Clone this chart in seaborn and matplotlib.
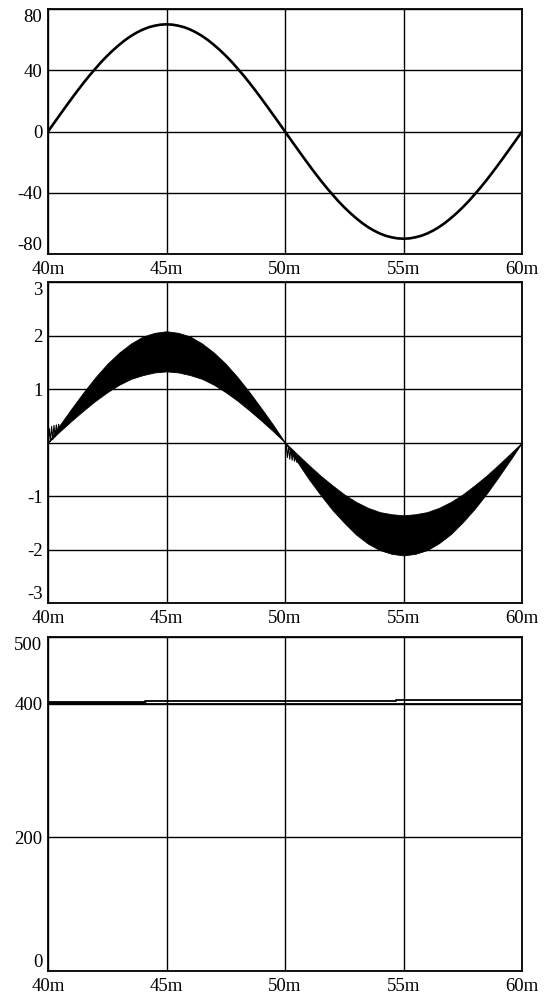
import numpy as np
import pandas as pd
import matplotlib
matplotlib.use('Agg')
import matplotlib.pyplot as plt
import seaborn as sns

# time axis in ms (labels get an 'm' suffix), 0.25 ms steps
t_fine = [40.0, 40.25, 40.5, 40.75, 41.0, 41.25, 41.5, 41.75, 42.0, 42.25,
          42.5, 42.75, 43.0, 43.25, 43.5, 43.75, 44.0, 44.25, 44.5, 44.75,
          45.0, 45.25, 45.5, 45.75, 46.0, 46.25, 46.5, 46.75, 47.0, 47.25,
          47.5, 47.75, 48.0, 48.25, 48.5, 48.75, 49.0, 49.25, 49.5, 49.75,
          50.0, 50.25, 50.5, 50.75, 51.0, 51.25, 51.5, 51.75, 52.0, 52.25,
          52.5, 52.75, 53.0, 53.25, 53.5, 53.75, 54.0, 54.25, 54.5, 54.75,
          55.0, 55.25, 55.5, 55.75, 56.0, 56.25, 56.5, 56.75, 57.0, 57.25,
          57.5, 57.75, 58.0, 58.25, 58.5, 58.75, 59.0, 59.25, 59.5, 59.75,
          60.0]

# top panel - sine
v_top = [0, 5.5, 10.9, 16.3, 21.6, 26.8, 31.8, 36.6, 41.1, 45.5,
         49.5, 53.2, 56.6, 59.7, 62.4, 64.7, 66.6, 68.1, 69.1, 69.8,
         70.0, 69.8, 69.1, 68.1, 66.6, 64.7, 62.4, 59.7, 56.6, 53.2,
         49.5, 45.5, 41.1, 36.6, 31.8, 26.8, 21.6, 16.3, 10.9, 5.5,
         0, -5.5, -10.9, -16.3, -21.6, -26.8, -31.8, -36.6, -41.1, -45.5,
         -49.5, -53.2, -56.6, -59.7, -62.4, -64.7, -66.6, -68.1, -69.1, -69.8,
         -70.0, -69.8, -69.1, -68.1, -66.6, -64.7, -62.4, -59.7, -56.6, -53.2,
         -49.5, -45.5, -41.1, -36.6, -31.8, -26.8, -21.6, -16.3, -10.9, -5.5,
         0]

# middle panel - outer / inner edge of the dense ripple band, 0.5 ms steps
t_env = [40.0, 40.5, 41.0, 41.5, 42.0, 42.5, 43.0, 43.5, 44.0, 44.5, 45.0,
         45.5, 46.0, 46.5, 47.0, 47.5, 48.0, 48.5, 49.0, 49.5, 50.0,
         50.5, 51.0, 51.5, 52.0, 52.5, 53.0, 53.5, 54.0, 54.5, 55.0,
         55.5, 56.0, 56.5, 57.0, 57.5, 58.0, 58.5, 59.0, 59.5, 60.0]
band_outer = [0, 0.33, 0.64, 0.94, 1.22, 1.47, 1.68, 1.85, 1.98, 2.05, 2.08,
              2.05, 1.98, 1.85, 1.68, 1.47, 1.22, 0.94, 0.64, 0.33, 0,
              -0.35, -0.68, -0.98, -1.26, -1.50, -1.72, -1.89, -2.01, -2.08, -2.11,
              -2.08, -2.01, -1.88, -1.71, -1.49, -1.24, -0.96, -0.65, -0.33, 0]
band_inner = [0, 0.21, 0.41, 0.60, 0.78, 0.94, 1.08, 1.19, 1.26, 1.31, 1.33,
              1.31, 1.26, 1.19, 1.08, 0.94, 0.78, 0.60, 0.41, 0.21, 0,
              -0.21, -0.42, -0.62, -0.80, -0.97, -1.11, -1.22, -1.30, -1.34, -1.36,
              -1.34, -1.30, -1.22, -1.11, -0.97, -0.80, -0.62, -0.42, -0.21, 0]

# ringing at the zero crossings
ring_t1 = [40.0, 40.05, 40.1, 40.15, 40.2, 40.25, 40.3, 40.35, 40.4, 40.45, 40.5]
ring_v1 = [0.0, 0.26, 0.02, 0.30, 0.06, 0.32, 0.11, 0.33, 0.16, 0.34, 0.22]
ring_t2 = [50.0, 50.05, 50.1, 50.15, 50.2, 50.25, 50.3, 50.35, 50.4, 50.45, 50.5]
ring_v2 = [0.0, -0.04, -0.28, -0.07, -0.31, -0.11, -0.33, -0.16, -0.35, -0.23, -0.37]

# bottom panel - nearly flat level with small steps
t_lvl = [40.0, 44.1, 44.1, 54.7, 54.7, 60.0]
lvl_upper = [403, 403, 404, 404, 405, 405]
lvl_lower = [399, 399, 399, 399, 399, 399]
t_thick = [40.0, 44.1]
lvl_thick = [401, 401]

sns.set_style('white')
plt.rcParams['font.family'] = ['Liberation Serif', 'DejaVu Serif']
plt.rcParams['font.size'] = 13.5

fig = plt.figure(figsize=(5.49, 9.93), dpi=100)
ax1 = fig.add_axes([0.0875, 0.7442, 0.8633, 0.2467])
ax2 = fig.add_axes([0.0875, 0.3927, 0.8633, 0.3233])
ax3 = fig.add_axes([0.0875, 0.0222, 0.8633, 0.3364])

x_ticks = [40, 45, 50, 55, 60]
x_labels = ['40m', '45m', '50m', '55m', '60m']


def style_axes(ax, yticks, ylabels, ylim):
    ax.set_xlim(40, 60)
    ax.set_ylim(*ylim)
    ax.set_xticks(x_ticks)
    ax.set_xticklabels(x_labels)
    ax.set_yticks(yticks)
    ax.set_yticklabels(ylabels)
    ax.grid(True, color='black', linewidth=1.0)
    ax.tick_params(length=0, colors='black')
    ax.tick_params(axis='x', pad=5)
    ax.tick_params(axis='y', pad=4)
    for s in ax.spines.values():
        s.set_color('black')
        s.set_linewidth(1.3)
    ax.set_xlabel('')
    ax.set_ylabel('')
    # end labels are kept inside the frame
    labs = ax.get_yticklabels()
    labs[-1].set_verticalalignment('top')
    labs[0].set_verticalalignment('bottom')


# top
df1 = pd.DataFrame({'t': t_fine, 'v': v_top})
sns.lineplot(data=df1, x='t', y='v', ax=ax1, color='black', linewidth=1.9,
             estimator=None, sort=False)
style_axes(ax1, [-80, -40, 0, 40, 80], ['-80', '-40', '0', '40', '80'], (-80, 80))

# middle
ax2.fill_between(t_env, band_inner, band_outer, color='black', linewidth=0.6,
                 edgecolor='black')
sns.lineplot(x=ring_t1, y=ring_v1, ax=ax2, color='black', linewidth=0.8,
             estimator=None, sort=False)
sns.lineplot(x=ring_t2, y=ring_v2, ax=ax2, color='black', linewidth=0.8,
             estimator=None, sort=False)
style_axes(ax2, [-3, -2, -1, 0, 1, 2, 3], ['-3', '-2', '-1', '', '1', '2', '3'], (-3, 3))

# bottom
sns.lineplot(x=t_lvl, y=lvl_upper, ax=ax3, color='black', linewidth=1.3,
             estimator=None, sort=False)
sns.lineplot(x=t_lvl, y=lvl_lower, ax=ax3, color='black', linewidth=1.3,
             estimator=None, sort=False)
sns.lineplot(x=t_thick, y=lvl_thick, ax=ax3, color='black', linewidth=2.0,
             estimator=None, sort=False)
style_axes(ax3, [0, 200, 400, 500], ['0', '200', '400', '500'], (0, 500))

fig.savefig('out.png', dpi=100)
